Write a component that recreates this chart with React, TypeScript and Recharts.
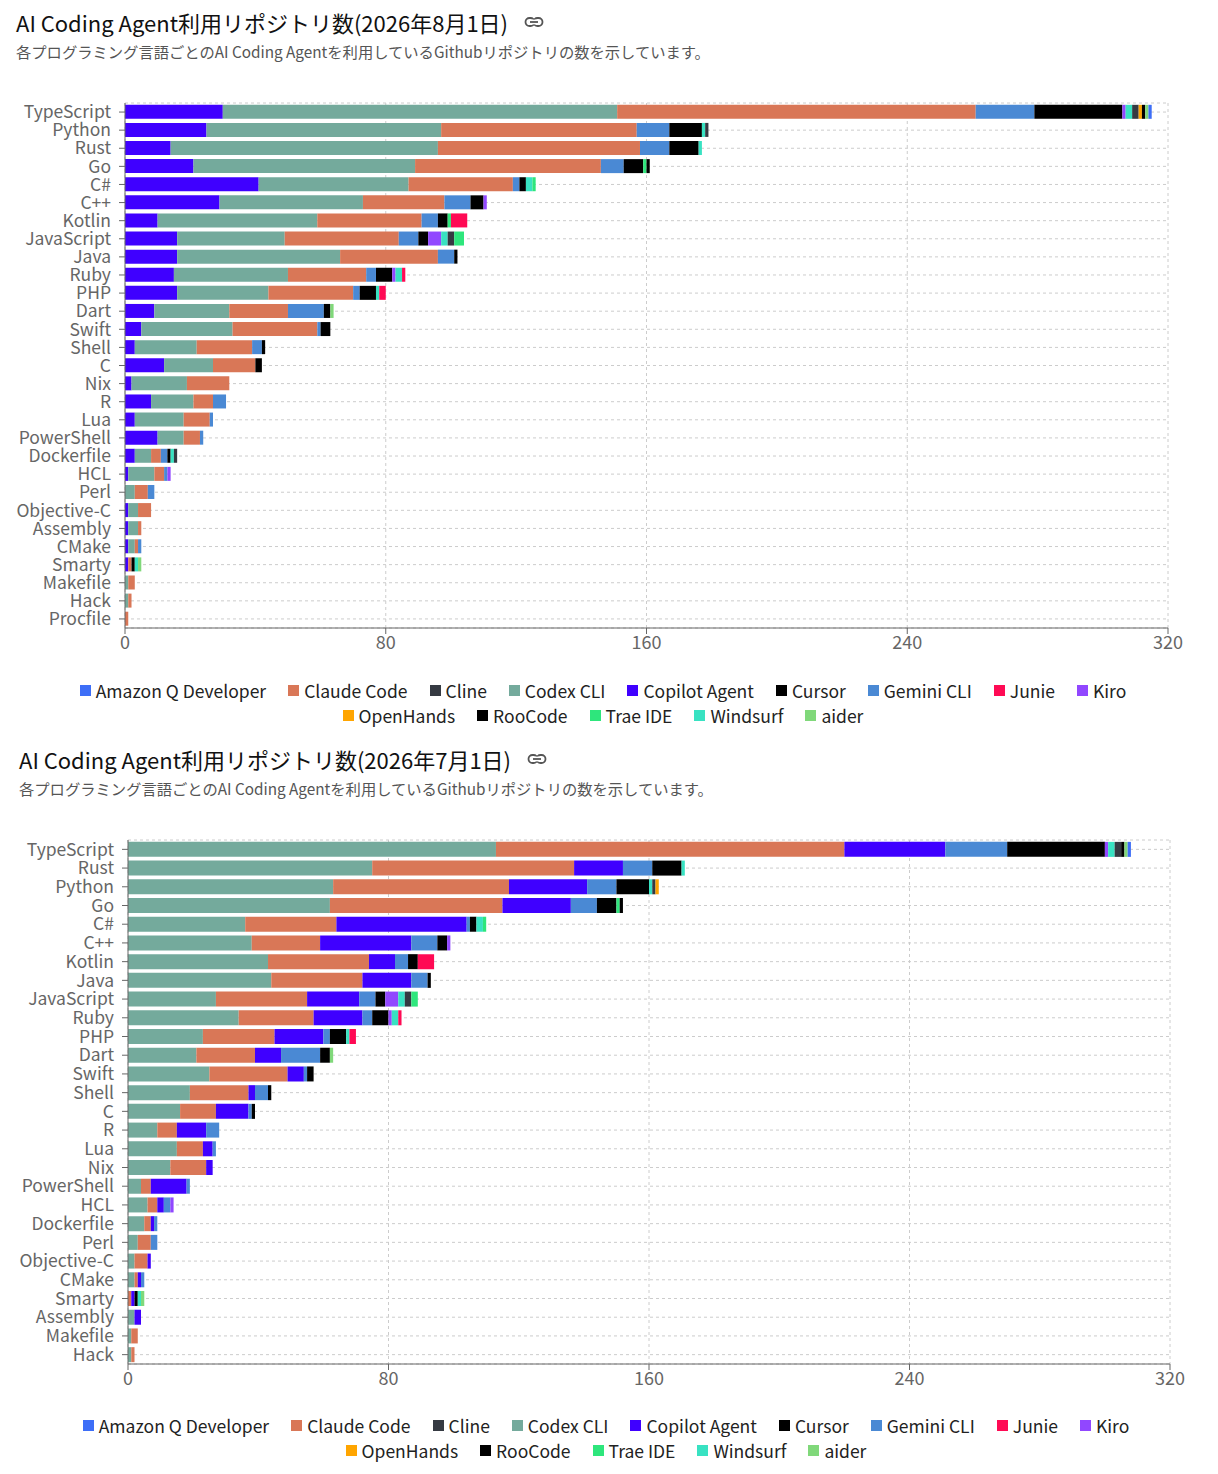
import React from 'react';
import { BarChart, Bar, XAxis, YAxis, CartesianGrid, Legend } from 'recharts';

// ---------- Data: 2026-08-01 (top chart) ----------
const AUG_LANGS = ['TypeScript', 'Python', 'Rust', 'Go', 'C#', 'C++', 'Kotlin', 'JavaScript', 'Java', 'Ruby', 'PHP', 'Dart', 'Swift', 'Shell', 'C', 'Nix', 'R', 'Lua', 'PowerShell', 'Dockerfile', 'HCL', 'Perl', 'Objective-C', 'Assembly', 'CMake', 'Smarty', 'Makefile', 'Hack', 'Procfile'];
const AUG_COPILOT = [30, 25, 14, 21, 41, 29, 10, 16, 16, 15, 16, 9, 5, 3, 12, 2, 8, 3, 10, 3, 1, 0, 1, 1, 1, 1, 0, 0, 0];
const AUG_CODEX = [121, 72, 82, 68, 46, 44, 49, 33, 50, 35, 28, 23, 28, 19, 15, 17, 13, 15, 8, 5, 8, 3, 3, 3, 2, 0, 1, 1, 0];
const AUG_CLAUDE = [110, 60, 62, 57, 32, 25, 32, 35, 30, 24, 26, 18, 26, 17, 13, 13, 6, 8, 5, 3, 3, 4, 4, 1, 1, 1, 2, 1, 1];
const AUG_GEMINI = [18, 10, 9, 7, 2, 8, 5, 6, 5, 3, 2, 11, 1, 3, 0, 0, 4, 1, 1, 2, 1, 2, 0, 0, 1, 0, 0, 0, 0];
const AUG_CURSOR = [27, 10, 9, 6, 2, 4, 3, 3, 1, 5, 5, 2, 3, 1, 2, 0, 0, 0, 0, 1, 0, 0, 0, 0, 0, 1, 0, 0, 0];
const AUG_KIRO = [1, 0, 0, 0, 0, 1, 0, 4, 0, 1, 0, 0, 0, 0, 0, 0, 0, 0, 0, 0, 1, 0, 0, 0, 0, 0, 0, 0, 0];
const AUG_WINDSURF = [2, 1, 1, 0, 2, 0, 0, 2, 0, 2, 1, 0, 0, 0, 0, 0, 0, 0, 0, 1, 0, 0, 0, 0, 0, 1, 0, 0, 0];
const AUG_CLINE = [2, 1, 0, 0, 0, 0, 0, 2, 0, 0, 0, 0, 0, 0, 0, 0, 0, 0, 0, 1, 0, 0, 0, 0, 0, 0, 0, 0, 0];
const AUG_TRAE = [0, 0, 0, 1, 1, 0, 1, 3, 0, 0, 0, 0, 0, 0, 0, 0, 0, 0, 0, 0, 0, 0, 0, 0, 0, 0, 0, 0, 0];
const AUG_OPENHANDS = [1, 0, 0, 0, 0, 0, 0, 0, 0, 0, 0, 0, 0, 0, 0, 0, 0, 0, 0, 0, 0, 0, 0, 0, 0, 0, 0, 0, 0];
const AUG_ROOCODE = [1, 0, 0, 1, 0, 0, 0, 0, 0, 0, 0, 0, 0, 0, 0, 0, 0, 0, 0, 0, 0, 0, 0, 0, 0, 0, 0, 0, 0];
const AUG_AIDER = [1, 0, 0, 0, 0, 0, 0, 0, 0, 0, 0, 1, 0, 0, 0, 0, 0, 0, 0, 0, 0, 0, 0, 0, 0, 1, 0, 0, 0];
const AUG_JUNIE = [0, 0, 0, 0, 0, 0, 5, 0, 0, 1, 2, 0, 0, 0, 0, 0, 0, 0, 0, 0, 0, 0, 0, 0, 0, 0, 0, 0, 0];
const AUG_AMAZONQ = [1, 0, 0, 0, 0, 0, 0, 0, 0, 0, 0, 0, 0, 0, 0, 0, 0, 0, 0, 0, 0, 0, 0, 0, 0, 0, 0, 0, 0];

// ---------- Data: 2026-07-01 (bottom chart) ----------
const JUL_LANGS = ['TypeScript', 'Rust', 'Python', 'Go', 'C#', 'C++', 'Kotlin', 'Java', 'JavaScript', 'Ruby', 'PHP', 'Dart', 'Swift', 'Shell', 'C', 'R', 'Lua', 'Nix', 'PowerShell', 'HCL', 'Dockerfile', 'Perl', 'Objective-C', 'CMake', 'Smarty', 'Assembly', 'Makefile', 'Hack'];
const JUL_CODEX = [113, 75, 63, 62, 36, 38, 43, 44, 27, 34, 23, 21, 25, 19, 16, 9, 15, 13, 4, 6, 5, 3, 2, 2, 0, 2, 1, 1];
const JUL_CLAUDE = [107, 62, 54, 53, 28, 21, 31, 28, 28, 23, 22, 18, 24, 18, 11, 6, 8, 11, 3, 3, 2, 4, 4, 1, 1, 0, 2, 1];
const JUL_COPILOT = [31, 15, 24, 21, 40, 28, 8, 15, 16, 15, 15, 8, 5, 2, 10, 9, 3, 2, 11, 2, 1, 0, 1, 1, 1, 2, 0, 0];
const JUL_GEMINI = [19, 9, 9, 8, 1, 8, 4, 5, 5, 3, 2, 12, 1, 4, 1, 4, 1, 0, 1, 2, 1, 2, 0, 1, 0, 0, 0, 0];
const JUL_CURSOR = [30, 9, 10, 6, 2, 3, 3, 1, 3, 5, 5, 3, 2, 1, 1, 0, 0, 0, 0, 0, 0, 0, 0, 0, 1, 0, 0, 0];
const JUL_KIRO = [1, 0, 0, 0, 0, 1, 0, 0, 4, 1, 0, 0, 0, 0, 0, 0, 0, 0, 0, 1, 0, 0, 0, 0, 0, 0, 0, 0];
const JUL_WINDSURF = [2, 1, 1, 0, 2, 0, 0, 0, 2, 2, 1, 0, 0, 0, 0, 0, 0, 0, 0, 0, 0, 0, 0, 0, 1, 0, 0, 0];
const JUL_CLINE = [2, 0, 1, 0, 0, 0, 0, 0, 2, 0, 0, 0, 0, 0, 0, 0, 0, 0, 0, 0, 0, 0, 0, 0, 0, 0, 0, 0];
const JUL_TRAE = [0, 0, 0, 1, 1, 0, 0, 0, 2, 0, 0, 0, 0, 0, 0, 0, 0, 0, 0, 0, 0, 0, 0, 0, 0, 0, 0, 0];
const JUL_OPENHANDS = [0, 0, 1, 0, 0, 0, 0, 0, 0, 0, 0, 0, 0, 0, 0, 0, 0, 0, 0, 0, 0, 0, 0, 0, 0, 0, 0, 0];
const JUL_ROOCODE = [1, 0, 0, 1, 0, 0, 0, 0, 0, 0, 0, 0, 0, 0, 0, 0, 0, 0, 0, 0, 0, 0, 0, 0, 0, 0, 0, 0];
const JUL_AIDER = [1, 0, 0, 0, 0, 0, 0, 0, 0, 0, 0, 1, 0, 0, 0, 0, 0, 0, 0, 0, 0, 0, 0, 0, 1, 0, 0, 0];
const JUL_JUNIE = [0, 0, 0, 0, 0, 0, 5, 0, 0, 1, 2, 0, 0, 0, 0, 0, 0, 0, 0, 0, 0, 0, 0, 0, 0, 0, 0, 0];
const JUL_AMAZONQ = [1, 0, 0, 0, 0, 0, 0, 0, 0, 0, 0, 0, 0, 0, 0, 0, 0, 0, 0, 0, 0, 0, 0, 0, 0, 0, 0, 0];

const X_TICKS = [0, 80, 160, 240, 320];
const LEGEND_ROWS = [
  ['Amazon Q Developer', 'Claude Code', 'Cline', 'Codex CLI', 'Copilot Agent', 'Cursor', 'Gemini CLI', 'Junie', 'Kiro'],
  ['OpenHands', 'RooCode', 'Trae IDE', 'Windsurf', 'aider'],
];

const COLORS: Record<string, string> = {
  'Amazon Q Developer': '#3d6ef7',
  'Claude Code': '#d97757',
  'Cline': '#353a42',
  'Codex CLI': '#74aa9c',
  'Copilot Agent': '#3f00ff',
  'Cursor': '#000000',
  'Gemini CLI': '#4a89d4',
  'Junie': '#ff0a54',
  'Kiro': '#9147ff',
  'OpenHands': '#ffa500',
  'RooCode': '#000000',
  'Trae IDE': '#2ee67c',
  'Windsurf': '#38e2c2',
  'aider': '#80d87a',
};

type Series = [string, number[]];

const AUG_SERIES: Series[] = [
  ['Copilot Agent', AUG_COPILOT],
  ['Codex CLI', AUG_CODEX],
  ['Claude Code', AUG_CLAUDE],
  ['Gemini CLI', AUG_GEMINI],
  ['Cursor', AUG_CURSOR],
  ['Kiro', AUG_KIRO],
  ['Windsurf', AUG_WINDSURF],
  ['Cline', AUG_CLINE],
  ['Trae IDE', AUG_TRAE],
  ['OpenHands', AUG_OPENHANDS],
  ['RooCode', AUG_ROOCODE],
  ['aider', AUG_AIDER],
  ['Junie', AUG_JUNIE],
  ['Amazon Q Developer', AUG_AMAZONQ],
];

const JUL_SERIES: Series[] = [
  ['Codex CLI', JUL_CODEX],
  ['Claude Code', JUL_CLAUDE],
  ['Copilot Agent', JUL_COPILOT],
  ['Gemini CLI', JUL_GEMINI],
  ['Cursor', JUL_CURSOR],
  ['Kiro', JUL_KIRO],
  ['Windsurf', JUL_WINDSURF],
  ['Cline', JUL_CLINE],
  ['Trae IDE', JUL_TRAE],
  ['OpenHands', JUL_OPENHANDS],
  ['RooCode', JUL_ROOCODE],
  ['aider', JUL_AIDER],
  ['Junie', JUL_JUNIE],
  ['Amazon Q Developer', JUL_AMAZONQ],
];

function buildRows(langs: string[], series: Series[]) {
  return langs.map((name, i) => {
    const row: Record<string, string | number> = { name };
    series.forEach(([agent, vals]) => {
      row[agent] = vals[i];
    });
    return row;
  });
}

const FONT = "'Noto Sans CJK JP', 'Noto Sans', sans-serif";
const SUBTITLE = '各プログラミング言語ごとのAI Coding Agentを利用しているGithubリポジトリの数を示しています。';

function LinkIcon() {
  return (
    <svg width="20" height="14" viewBox="0 0 20 14" style={{ marginLeft: 16 }}>
      <rect x="1.5" y="3" width="9" height="8" rx="4" fill="none" stroke="#555" strokeWidth="1.8" />
      <rect x="9.5" y="3" width="9" height="8" rx="4" fill="none" stroke="#555" strokeWidth="1.8" />
      <rect x="8" y="4.6" width="4" height="4.8" fill="#fff" />
      <line x1="6" y1="7" x2="14" y2="7" stroke="#555" strokeWidth="1.8" />
    </svg>
  );
}

function LegendContent() {
  return (
    <div style={{ width: '100%', fontFamily: FONT }}>
      {LEGEND_ROWS.map((row, ri) => (
        <div key={ri} style={{ display: 'flex', justifyContent: 'center', height: 25, alignItems: 'center' }}>
          {row.map((name, i) => (
            <div key={name} style={{ display: 'flex', alignItems: 'center', marginLeft: i === 0 ? 0 : 22 }}>
              <span style={{ display: 'inline-block', width: 11, height: 11, background: COLORS[name], marginRight: 5 }} />
              <span style={{ fontSize: 17.5, color: '#222', lineHeight: '25px' }}>{name}</span>
            </div>
          ))}
        </div>
      ))}
    </div>
  );
}

type CardProps = {
  top: number;
  left: number;
  title: string;
  langs: string[];
  series: Series[];
  marginRight: number;
  marginBottom: number;
  legendTop: number;
};

function Card({ top, left, title, langs, series, marginRight, marginBottom, legendTop }: CardProps) {
  const rows = buildRows(langs, series);
  return (
    <div style={{ position: 'absolute', top, left, width: 1200, height: 730 }}>
      <div style={{ position: 'absolute', top: -1, left: 8, height: 30, display: 'flex', alignItems: 'center', fontSize: 22, color: '#111', lineHeight: '30px', whiteSpace: 'nowrap' }}>
        <span>{title}</span>
        <LinkIcon />
      </div>
      <div style={{ position: 'absolute', top: 32, left: 8, fontSize: 15.3, color: '#555', lineHeight: '22px', whiteSpace: 'nowrap' }}>
        {SUBTITLE}
      </div>
      <div style={{ position: 'absolute', top: 60, left: 0 }}>
        <BarChart
          width={1190}
          height={670}
          data={rows}
          layout="vertical"
          margin={{ top: 35, right: marginRight, bottom: marginBottom, left: 0 }}
          barCategoryGap="10%"
        >
          <CartesianGrid strokeDasharray="3 3" stroke="#ccc" />
          <XAxis
            type="number"
            domain={[0, 320]}
            ticks={X_TICKS}
            tick={{ fontSize: 18, fill: '#666' }}
            stroke="#666"
          />
          <YAxis
            type="category"
            dataKey="name"
            width={117}
            interval={0}
            tick={{ fontSize: 17.5, fill: '#666' }}
            tickMargin={8}
            stroke="#666"
          />
          <Legend
            layout="horizontal"
            verticalAlign="middle"
            align="center"
            wrapperStyle={{ top: legendTop, left: 0, width: 1190 }}
            content={() => <LegendContent />}
          />
          {series.map(([agent]) => (
            <Bar key={agent} dataKey={agent} stackId="a" fill={COLORS[agent]} isAnimationActive={false} legendType="square" />
          ))}
        </BarChart>
      </div>
    </div>
  );
}

export default function App() {
  return (
    <div style={{ position: 'relative', width: 1202, height: 1466, fontFamily: FONT, background: '#fff' }}>
      <Card
        top={0}
        left={0}
        title="AI Coding Agent利用リポジトリ数(2026年8月1日)"
        langs={AUG_LANGS}
        series={AUG_SERIES}
        marginRight={30}
        marginBottom={80}
        legendTop={609.5}
      />
      <Card
        top={737}
        left={3}
        title="AI Coding Agent利用リポジトリ数(2026年7月1日)"
        langs={JUL_LANGS}
        series={JUL_SERIES}
        marginRight={31}
        marginBottom={81}
        legendTop={607.5}
      />
    </div>
  );
}
